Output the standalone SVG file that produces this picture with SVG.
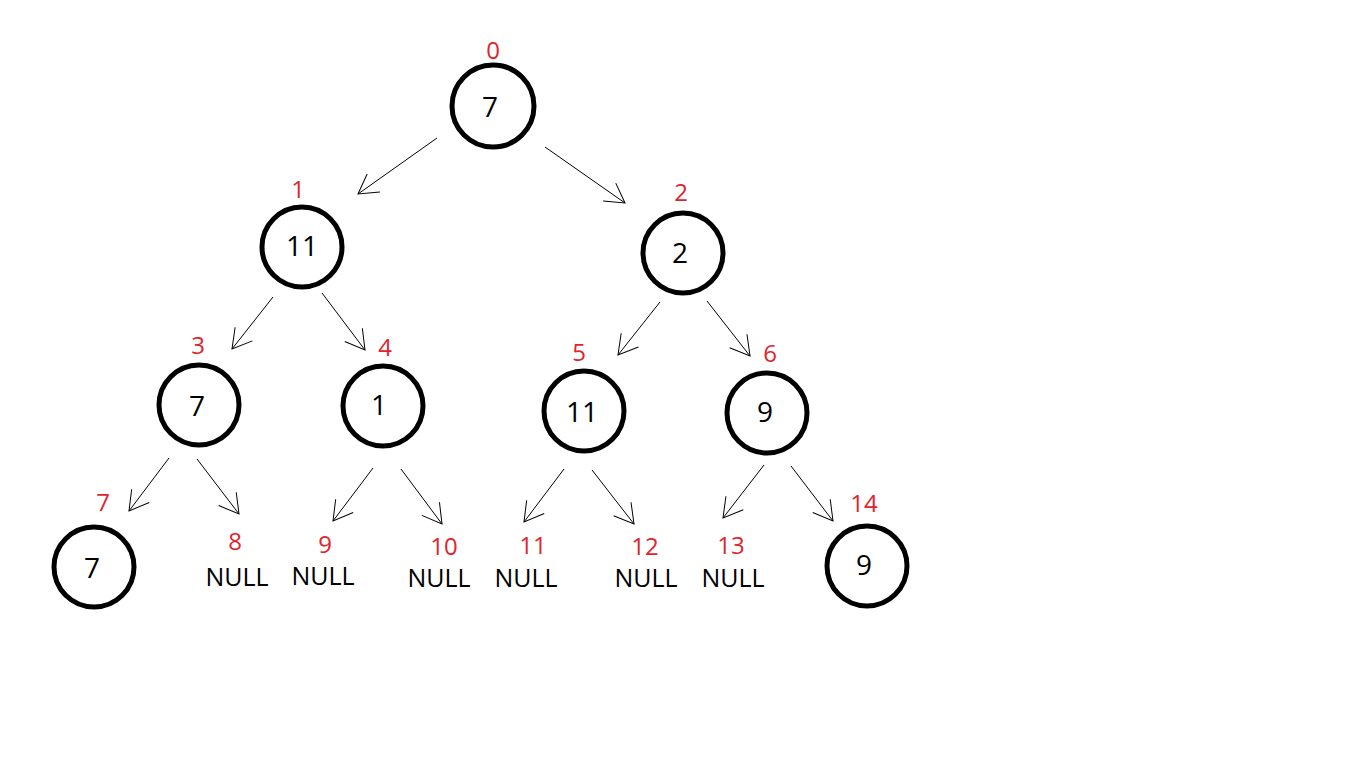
<svg xmlns="http://www.w3.org/2000/svg" width="1368" height="782" viewBox="0 0 1368 782">
<style>
.node circle{fill:#fff;stroke:#000;stroke-width:5}
.val{font-family:"Open Sans",sans-serif;font-size:28px;fill:#000;text-anchor:middle}
.idx{font-family:"Open Sans",sans-serif;font-size:24px;fill:#e0242c;text-anchor:middle}
.nul{font-family:"Open Sans",sans-serif;font-size:25px;fill:#000;text-anchor:middle}
.edge{stroke:#000;stroke-width:1;fill:none;marker-end:url(#arr)}
</style>
<defs>
<marker id="arr" markerUnits="userSpaceOnUse" markerWidth="30" markerHeight="30" viewBox="-25 -15 30 30" refX="0" refY="0" orient="auto">
<path d="M-19,-11 L0,0 L-19,11" fill="none" stroke="#000" stroke-width="1"/>
</marker>
</defs>
<rect width="1368" height="782" fill="#fff"/>
<g id="connectors">
<line class="edge" x1="437" y1="138" x2="358" y2="194"/>
<line class="edge" x1="545" y1="147" x2="625" y2="203"/>
<line class="edge" x1="273" y1="297" x2="232" y2="349"/>
<line class="edge" x1="322" y1="293" x2="365" y2="350"/>
<line class="edge" x1="660" y1="302" x2="618" y2="355"/>
<line class="edge" x1="707" y1="301" x2="750" y2="356"/>
<line class="edge" x1="169" y1="458" x2="129" y2="511"/>
<line class="edge" x1="197" y1="459" x2="239" y2="514"/>
<line class="edge" x1="373" y1="468" x2="333" y2="521"/>
<line class="edge" x1="401" y1="469" x2="442" y2="524"/>
<line class="edge" x1="564" y1="469" x2="524" y2="522"/>
<line class="edge" x1="592" y1="470" x2="634" y2="524"/>
<line class="edge" x1="764" y1="465" x2="723" y2="518"/>
<line class="edge" x1="791" y1="466" x2="833" y2="521"/>
</g>
<g id="n0" class="node"><circle cx="493" cy="106" r="41"/><text class="val" x="490" y="117">7</text><text class="idx" x="493" y="59">0</text></g>
<g id="n1" class="node"><circle cx="302" cy="247" r="40"/><text class="val" x="302" y="256">11</text><text class="idx" x="298" y="198">1</text></g>
<g id="n2" class="node"><circle cx="683" cy="253" r="40"/><text class="val" x="680" y="263">2</text><text class="idx" x="681" y="201">2</text></g>
<g id="n3" class="node"><circle cx="199" cy="405" r="40"/><text class="val" x="197" y="416">7</text><text class="idx" x="198" y="354">3</text></g>
<g id="n4" class="node"><circle cx="383" cy="406" r="40"/><text class="val" x="379" y="415">1</text><text class="idx" x="385" y="356">4</text></g>
<g id="n5" class="node"><circle cx="584" cy="411" r="40"/><text class="val" x="582" y="422">11</text><text class="idx" x="579" y="361">5</text></g>
<g id="n6" class="node"><circle cx="767" cy="413" r="40"/><text class="val" x="765" y="422">9</text><text class="idx" x="770" y="362">6</text></g>
<g id="n7" class="node"><circle cx="94" cy="567" r="40"/><text class="val" x="92" y="578">7</text><text class="idx" x="103" y="511">7</text></g>
<g id="n8"><text class="idx" x="235" y="550">8</text><text class="nul" x="237" y="586">NULL</text></g>
<g id="n9"><text class="idx" x="325" y="553">9</text><text class="nul" x="323" y="585">NULL</text></g>
<g id="n10"><text class="idx" x="444" y="555">10</text><text class="nul" x="439" y="587">NULL</text></g>
<g id="n11"><text class="idx" x="533" y="554">11</text><text class="nul" x="526" y="587">NULL</text></g>
<g id="n12"><text class="idx" x="645" y="555">12</text><text class="nul" x="646" y="587">NULL</text></g>
<g id="n13"><text class="idx" x="731" y="554">13</text><text class="nul" x="733" y="587">NULL</text></g>
<g id="n14" class="node"><circle cx="867" cy="566" r="40"/><text class="val" x="864" y="575">9</text><text class="idx" x="864" y="512">14</text></g>
</svg>
